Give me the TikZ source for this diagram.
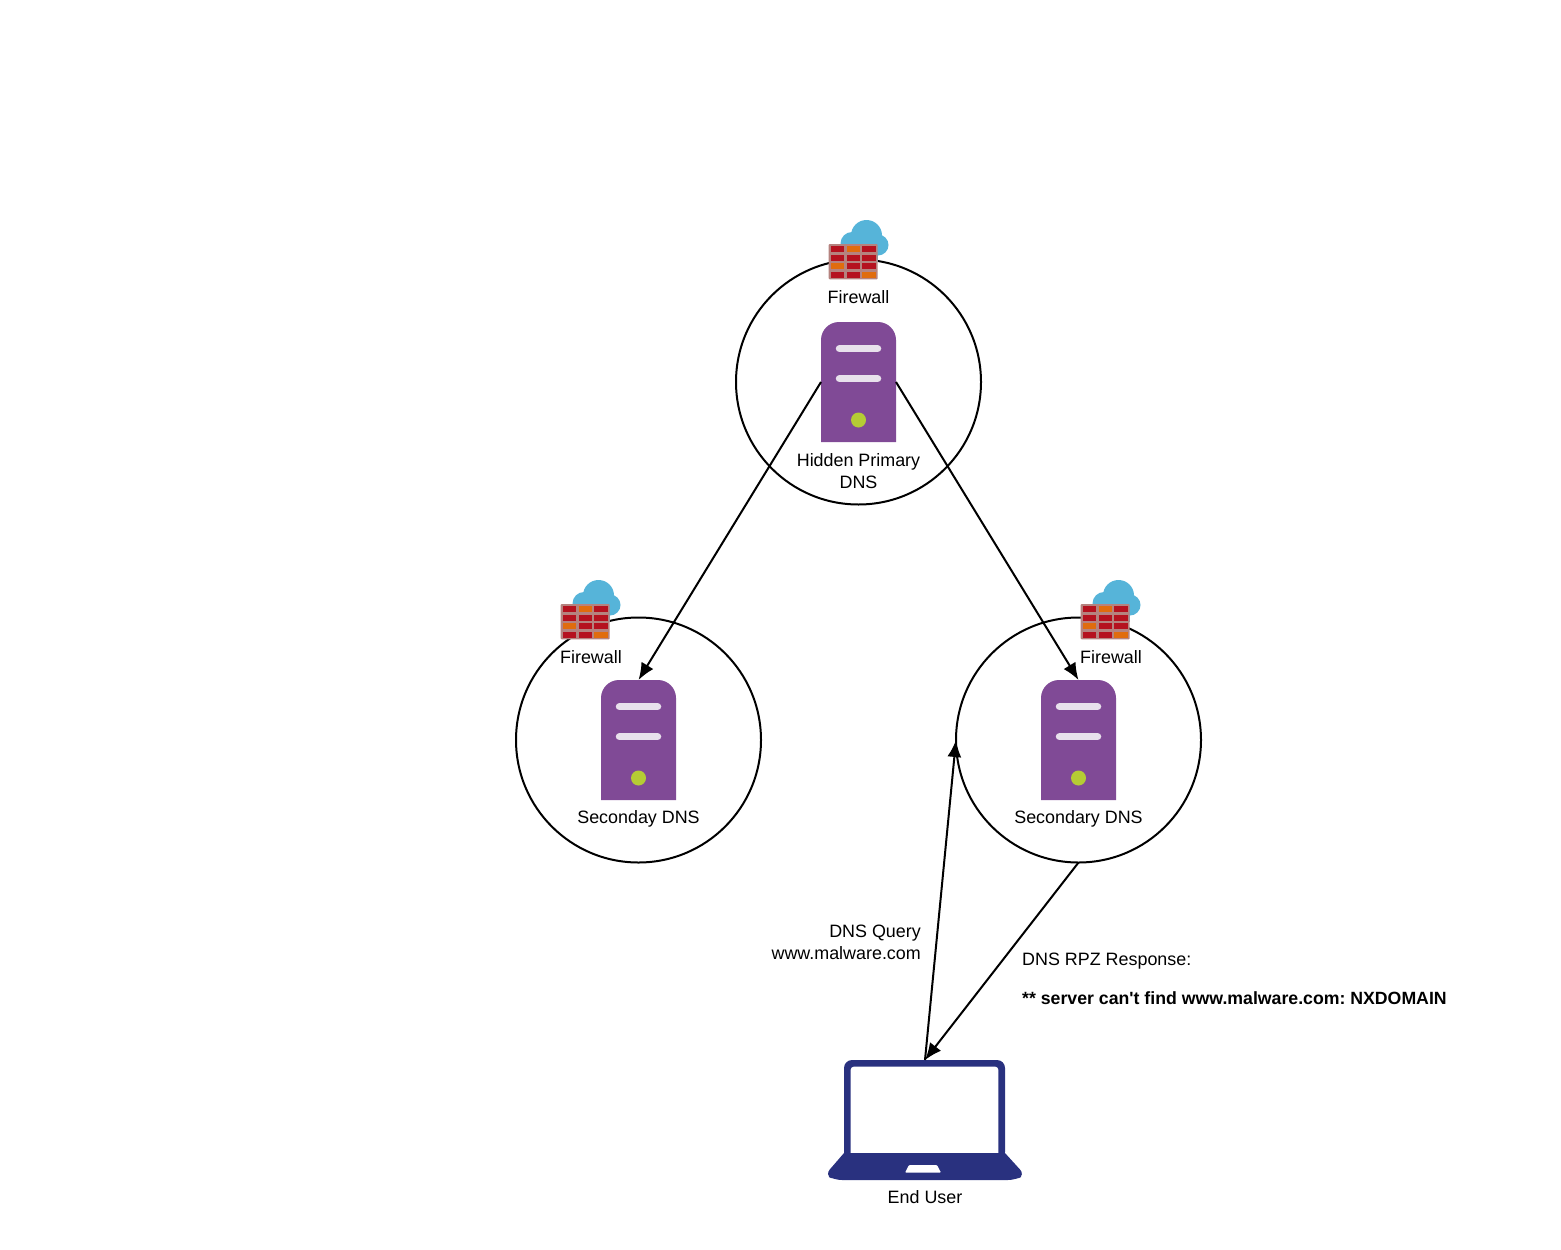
\documentclass[tikz,border=0pt]{standalone}
\usepackage{fontspec}
\setmainfont{Liberation Sans}[Ligatures=TeXOff]
\usetikzlibrary{arrows.meta}

\definecolor{serverpurple}{HTML}{804A96}
\definecolor{serverbar}{HTML}{E8E1EC}
\definecolor{serverled}{HTML}{B5CC34}
\definecolor{cloudblue}{HTML}{56B4D9}
\definecolor{brickred}{HTML}{B5121F}
\definecolor{brickorange}{HTML}{E06C0E}
\definecolor{wallframe}{HTML}{B5837F}
\definecolor{laptopblue}{HTML}{29317F}

\tikzset{
    zone/.style={draw, circle, line width=2pt, minimum size=245pt, inner sep=0pt, outer sep=0pt},
    lbl/.style={font=\fontsize{17.9}{22}\selectfont\frenchspacing, align=center, inner sep=0pt, text=black},
    link/.style={line width=2pt, -{Latex[length=17pt,width=14pt]}},
    server/.pic={
        \node[minimum width=75pt, minimum height=120pt, inner sep=0pt, outer sep=0pt] (-box) at (0,0) {};
        \fill[serverpurple] (-37.5,60) [rounded corners=18pt] -- (-37.5,-60) -- (37.5,-60) [sharp corners] -- (37.5,60) -- cycle;
        \foreach \y in {-33.3,-3.3}
            \draw[serverbar, line width=7.5pt, line cap=round] (-19,\y) -- (19,\y);
        \fill[serverled] (0,38) circle (7.5);
    },
    firewall/.pic={
        % nuvem
        \fill[cloudblue] (13.5,-26) circle (15.5);
        \fill[cloudblue] (25,-16.5) circle (10.5);
        \fill[cloudblue] (-1,-18) circle (11.5);
        \fill[cloudblue] (-2,-18) rectangle (25,0);
        % tijolos
        \fill[wallframe, rounded corners=1pt] (-24.3,-17.5) rectangle (24.7,17.8);
        \foreach \r/\ya in {0/-15.5,1/-6.9,2/1.6,3/10.2}
            \foreach \c/\xa in {0/-22.2,1/-6.3,2/9.2}
                \fill[brickred] (\xa,\ya) rectangle ++(13.4,6.1);
        \fill[brickorange] (-6.3,-15.5) rectangle ++(13.4,6.1);
        \fill[brickorange] (-22.2,1.6) rectangle ++(13.4,6.1);
        \fill[brickorange] (9.2,10.2) rectangle ++(13.4,6.1);
    },
    laptop/.pic={
        \node[minimum width=192pt, minimum height=120pt, inner sep=0pt, outer sep=0pt] (-box) at (0,0) {};
        \fill[laptopblue, rounded corners=8pt] (-81,40) -- (-81,-60) -- (80,-60) -- (80,40) -- cycle;
        \fill[white, rounded corners=3pt] (-74.3,40) -- (-74.3,-53.3) -- (73.3,-53.3) -- (73.3,40) -- cycle;
        \fill[laptopblue] (-81,33) -- (80,33) [rounded corners=7pt] -- (100,55) -- (90,60) -- (-90,60) -- (-100,55) [sharp corners] -- cycle;
        \fill[white, rounded corners=1pt] (-16,45) -- (12,45) -- (16,52.7) -- (-20,52.7) -- cycle;
    }
}

\begin{document}
\begin{tikzpicture}[x=1pt, y=-1pt]
    \useasboundingbox (0,0) rectangle (1561,1250);

    % zonas
    \node[zone] (zoneT) at (858.5,382) {};
    \node[zone] (zoneL) at (638.5,740) {};
    \node[zone] (zoneR) at (1078.5,740) {};

    % servidores
    \pic (primary) at (858.5,382) {server};
    \pic (secondL) at (638.5,740) {server};
    \pic (secondR) at (1078.5,740) {server};

    % firewalls
    \pic at (853,261.5) {firewall};
    \pic at (585,621.5) {firewall};
    \pic at (1105,621.5) {firewall};

    % utilizador
    \pic (user) at (925,1120) {laptop};

    % textos
    \node[lbl] (fwT) at (858.5,297) {Firewall};
    \node[lbl] (fwL) at (591,657) {Firewall};
    \node[lbl] (fwR) at (1111,657) {Firewall};
    \node[lbl] (nameT) at (858.5,471) {Hidden Primary\\DNS};
    \node[lbl] (nameL) at (638.5,819) {Seconday DNS};
    \node[lbl] (nameR) at (1078.5,819) {Secondary DNS};
    \node[lbl, align=right, anchor=east] (query) at (921,942) {DNS Query\\www.malware.com};
    \node[lbl, anchor=west] (resp) at (1022,961) {DNS RPZ Response:};
    \node[lbl, anchor=west, font=\fontsize{17.7}{22}\selectfont\bfseries\frenchspacing] (nx) at (1022,998) {** server can't find www.malware.com: NXDOMAIN};
    \node[lbl] (nameU) at (925,1197) {End User};

    % setas
    \draw[link] (primary-box.west) -- (secondL-box.north);
    \draw[link] (primary-box.east) -- (secondR-box.north);
    \draw[link] (zoneR.south) -- (user-box.north);
    \draw[link] (user-box.north) -- (zoneR.west);
\end{tikzpicture}
\end{document}
